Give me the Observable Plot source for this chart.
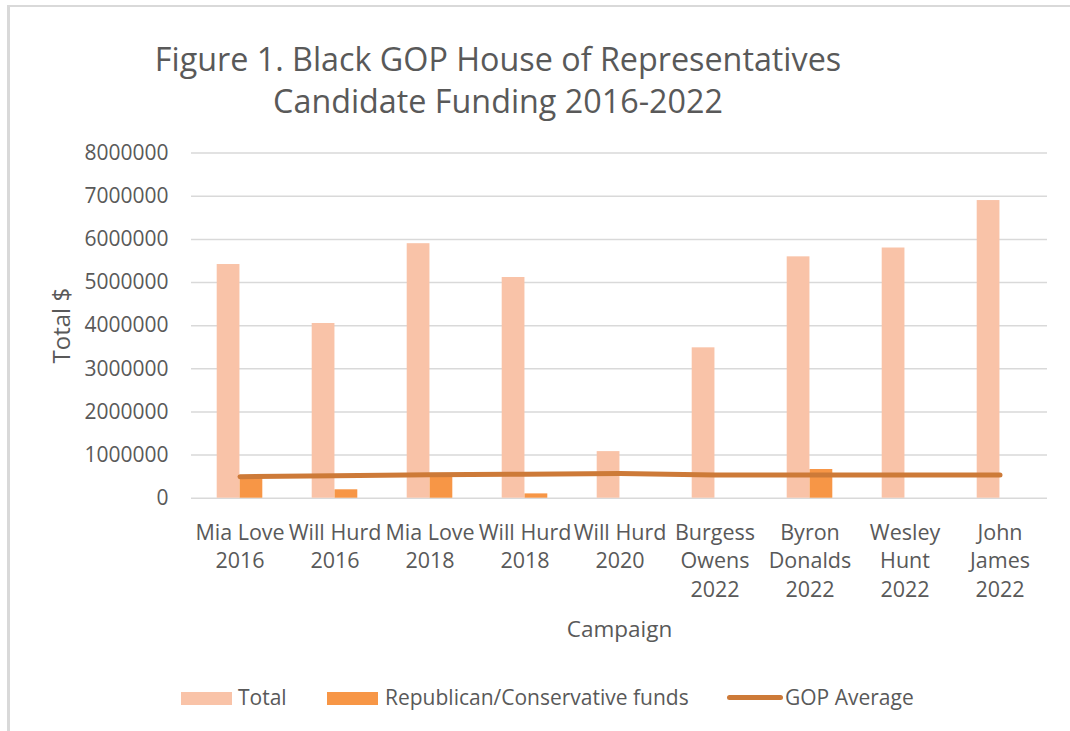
<!DOCTYPE html>
<html><head><meta charset="utf-8">
<script src="https://cdn.jsdelivr.net/npm/d3@7"></script>
<script src="https://cdn.jsdelivr.net/npm/@observablehq/plot@0.6"></script>
<style>
body{margin:0;background:#fff;font-family:"Open Sans",sans-serif;color:#595959}
#chart{position:relative;width:1070px;height:731px;overflow:hidden}
#frame{position:absolute;left:7px;top:5px;width:1080px;height:760px;border-top:2px solid #d9d9d9;border-left:3px solid #d9d9d9}
#title{position:absolute;left:48px;width:900px;top:37px;text-align:center;font-size:32.3px;line-height:42px;white-space:nowrap}
#plot{position:absolute;left:0;top:130px}
.leg{position:absolute;top:683px;font-size:21px;line-height:28px;white-space:nowrap}
.sw{position:absolute}
</style></head>
<body>
<div id="chart">
  <div id="frame"></div>
  <div id="title">Figure 1. Black GOP House of Representatives<br>Candidate Funding 2016-2022</div>
  <div id="plot"></div>
  <div class="sw" style="left:181px;top:692px;width:51px;height:13px;background:#F9C3A8"></div>
  <div class="leg" style="left:238px">Total</div>
  <div class="sw" style="left:327px;top:692px;width:51px;height:13px;background:#F79646"></div>
  <div class="leg" style="left:385px">Republican/Conservative funds</div>
  <div class="sw" style="left:727px;top:695px;width:56px;height:5px;border-radius:3px;background:#CD7A38"></div>
  <div class="leg" style="left:785px">GOP Average</div>
</div>
<script>
const campaigns = ["Mia Love 2016","Will Hurd 2016","Mia Love 2018","Will Hurd 2018","Will Hurd 2020","Burgess Owens 2022","Byron Donalds 2022","Wesley Hunt 2022","John James 2022"];
const tickLabels = ["Mia Love\n2016","Will Hurd\n2016","Mia Love\n2018","Will Hurd\n2018","Will Hurd\n2020","Burgess\nOwens\n2022","Byron\nDonalds\n2022","Wesley\nHunt\n2022","John\nJames\n2022"];
const totalFunds = [5417000, 4050000, 5900000, 5116000, 1080000, 3486000, 5595000, 5800000, 6900000];
const republicanFunds = [470000, 195000, 520000, 100000, 0, 0, 665000, 0, 0];
const gopAverage = [500000, 520000, 545000, 555000, 570000, 540000, 538000, 538000, 538000];
const yTicks = [0, 1000000, 2000000, 3000000, 4000000, 5000000, 6000000, 7000000, 8000000];

const rows = campaigns.map((c, i) => ({campaign: c, total: totalFunds[i], rep: republicanFunds[i], avg: gopAverage[i]}));

const plot = Plot.plot({
  width: 1070, height: 520,
  marginLeft: 191, marginRight: 23, marginTop: 22.6, marginBottom: 152.3,
  style: {fontFamily: "'Open Sans', sans-serif", fontSize: "21px", color: "#595959", background: "transparent", overflow: "visible"},
  x: {type: "band", domain: campaigns, padding: 0},
  y: {domain: [0, 8000000]},
  marks: [
    Plot.gridY(yTicks, {stroke: "#d9d9d9", strokeOpacity: 1, strokeWidth: 1.5}),
    Plot.barY(rows, {x: "campaign", y: "total", fill: "#F9C3A8", insetLeft: 24.7, insetRight: 47.55}),
    Plot.barY(rows, {x: "campaign", y: "rep", fill: "#F79646", insetLeft: 47.55, insetRight: 24.7}),
    Plot.lineY(rows, {x: "campaign", y: "avg", stroke: "#CD7A38", strokeWidth: 5, strokeLinecap: "round"}),
    Plot.axisY(yTicks, {tickSize: 0, tickPadding: 23, tickFormat: d3.format("d"), label: null, fontSize: 21}),
    Plot.axisY([], {tickSize: 0, label: "Total $", labelAnchor: "center", labelOffset: 139, labelArrow: "none", fontSize: 24}),
    Plot.axisX({tickSize: 0, tickPadding: 22, tickFormat: d => tickLabels[campaigns.indexOf(d)], lineHeight: 1.31, label: null, fontSize: 21.5}),
    Plot.axisX([], {tickSize: 0, label: "Campaign", labelAnchor: "center", labelOffset: 139, labelArrow: "none", fontSize: 22.5})
  ]
});
document.getElementById("plot").appendChild(plot);
</script>
</body></html>
